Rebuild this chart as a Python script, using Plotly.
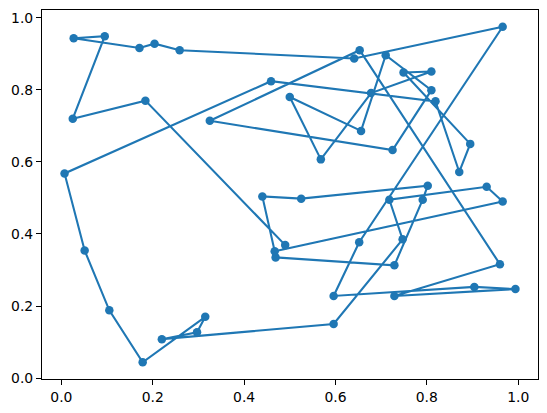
import plotly.graph_objects as go

# points in drawing order
x_vals = [0.469, 0.729, 0.791, 0.802, 0.525, 0.440, 0.467, 0.966, 0.931, 0.718,
          0.747, 0.596, 0.220, 0.297, 0.315, 0.178, 0.105, 0.051, 0.007, 0.459,
          0.819, 0.871, 0.895, 0.749, 0.810, 0.678, 0.568, 0.500, 0.656, 0.710,
          0.810, 0.725, 0.325, 0.653, 0.960, 0.729, 0.994, 0.904, 0.596, 0.652,
          0.966, 0.641, 0.259, 0.204, 0.171, 0.027, 0.095, 0.025, 0.184, 0.490]
y_vals = [0.335, 0.313, 0.495, 0.534, 0.498, 0.504, 0.352, 0.490, 0.531, 0.495,
          0.385, 0.150, 0.108, 0.127, 0.170, 0.044, 0.188, 0.354, 0.568, 0.824,
          0.768, 0.572, 0.650, 0.848, 0.851, 0.791, 0.607, 0.780, 0.686, 0.896,
          0.799, 0.633, 0.714, 0.910, 0.316, 0.228, 0.247, 0.253, 0.228, 0.377,
          0.975, 0.887, 0.910, 0.928, 0.916, 0.943, 0.949, 0.720, 0.770, 0.369]

tick_vals = [0.0, 0.2, 0.4, 0.6, 0.8, 1.0]
tick_text = ["0.0", "0.2", "0.4", "0.6", "0.8", "1.0"]

def padded(vals, frac=0.05):
    lo, hi = min(vals), max(vals)
    pad = (hi - lo) * frac
    return [lo - pad, hi + pad]

fig = go.Figure(go.Scatter(
    x=x_vals,
    y=y_vals,
    mode="lines+markers",
    line=dict(color="#1f77b4", width=2.1),
    marker=dict(color="#1f77b4", size=8.5),
))

axis_style = dict(
    tickvals=tick_vals,
    ticktext=tick_text,
    ticks="outside",
    ticklen=5,
    tickwidth=1.1,
    tickcolor="black",
    showline=True,
    linecolor="black",
    linewidth=1.1,
    mirror=True,
    showgrid=False,
    zeroline=False,
    tickfont=dict(family="DejaVu Sans", size=13.9, color="black"),
)

# page body adds ~8px offset, so the figure is a bit smaller than the window
fig.update_layout(
    width=539,
    height=405,
    margin=dict(l=34, r=9, t=2, b=34),
    paper_bgcolor="white",
    plot_bgcolor="white",
    showlegend=False,
    xaxis=dict(range=padded(x_vals), **axis_style),
    yaxis=dict(range=padded(y_vals), **axis_style),
)

fig.write_html("out.html")
